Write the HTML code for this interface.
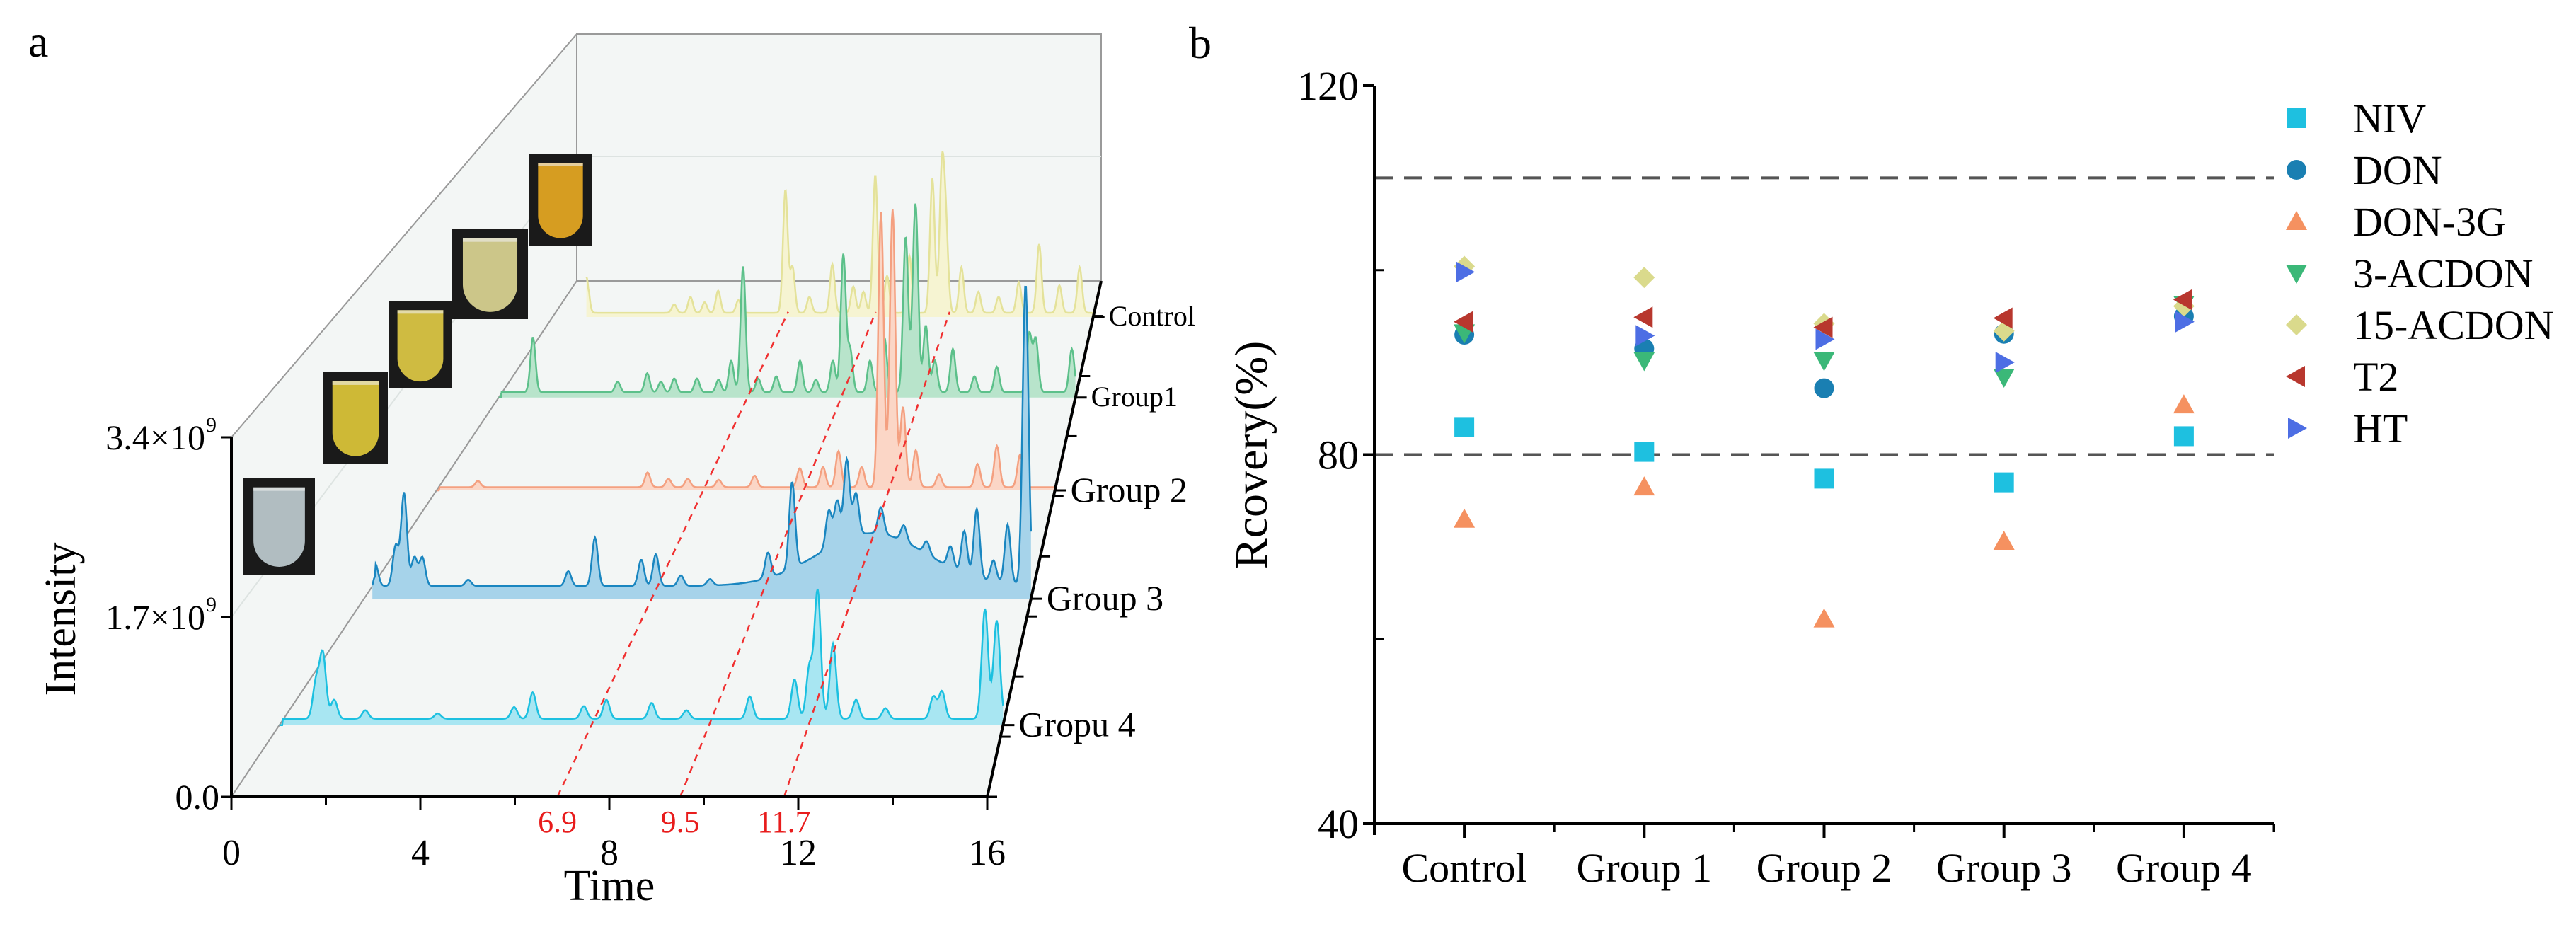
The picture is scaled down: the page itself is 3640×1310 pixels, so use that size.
<!DOCTYPE html>
<html><head><meta charset="utf-8"><style>
html,body{margin:0;padding:0;background:#fff;}
svg{display:block;}
text{font-family:"Liberation Serif","Times New Roman",serif;}
</style></head><body>
<svg id="fig" width="3640" height="1310" viewBox="0 0 3640 1310">
<text x="40" y="80" font-size="64">a</text>
<text x="1680" y="82" font-size="64">b</text>
<g id="pa">
  <polygon points="327,618 815,48 815,397 327,1126" fill="#f3f6f5" stroke="#9a9a9a" stroke-width="2"/>
  <polygon points="815,48 1556,48 1556,397 815,397" fill="#f3f6f5" stroke="#9a9a9a" stroke-width="2"/>
  <polygon points="327,1126 1395,1126 1556,397 815,397" fill="#f3f6f5" stroke="#9a9a9a" stroke-width="2"/>
  <line x1="815" y1="221" x2="1556" y2="221" stroke="#dde3e1" stroke-width="2"/>
  <line x1="327" y1="872" x2="815" y2="221" stroke="#dde3e1" stroke-width="2"/>
  <g id="tubes"></g>
  <g id="series"></g>
  <g id="redlines"></g>
  <g id="axesA"></g>
</g>
<g id="pb"></g>
</svg>
<script>
const NS="http://www.w3.org/2000/svg";
function mk(tag,attrs,parent,text){const e=document.createElementNS(NS,tag);for(const k in attrs)e.setAttribute(k,attrs[k]);if(text!==undefined)e.textContent=text;parent.appendChild(e);return e;}

// ---------- Panel a data ----------
const seriesNames=["Control","Group1","Group 2","Group 3","Gropu 4"];
const seriesDepth=[0.93,0.774,0.594,0.384,0.139];
const seriesStart=[1.0,0.0,0.0,0.2,0.0];
const seriesBase=[0.04,0.05,0.03,0.12,0.06];
const ctrlTimes=[1.0,3.6,4.08,4.5,4.9,5.5,6.89,7.1,7.6,8.28,8.9,9.2,9.55,9.9,10.56,11.24,11.52,11.64,12.1,12.6,13.2,13.8,14.4,15.0,15.6];
const ctrlHeights=[0.38,0.08,0.15,0.1,0.21,0.12,1.16,0.43,0.15,0.46,0.25,0.2,1.3,0.35,0.54,1.27,1.3,0.77,0.43,0.2,0.15,0.29,0.65,0.26,0.43];
const g1Times=[0.95,3.3,4.12,4.5,4.87,5.5,6.1,6.45,6.78,7.2,7.7,8.36,8.8,9.27,9.56,9.75,10.3,10.7,11.29,11.52,11.58,11.85,12.1,12.6,13.2,13.82,14.72,14.9,15.9];
const g1Heights=[0.52,0.1,0.18,0.1,0.13,0.13,0.12,0.3,1.19,0.13,0.15,0.3,0.12,0.3,1.3,0.4,0.3,0.52,1.47,0.63,1.3,0.63,0.3,0.41,0.15,0.24,0.55,0.5,0.41];
const g2Times=[1.07,5.46,6.0,6.5,7.3,8.23,9.4,10.0,10.4,11.0,11.5,11.8,12.07,12.4,13.0,14.0,14.5,15.1];
const g2Heights=[0.06,0.14,0.08,0.08,0.07,0.11,0.18,0.19,0.34,0.19,2.6,2.63,0.76,0.35,0.12,0.22,0.39,0.31];
const g3Times=[0.27,0.76,0.96,1.21,1.4,2.5,4.9,5.54,6.65,7.0,7.6,8.3,9.69,10.27,11.15,11.35,11.58,11.8,12.4,12.95,13.5,14.07,14.4,14.7,15.1,15.44,15.87,12.2];
const g3Heights=[0.21,0.38,0.88,0.27,0.27,0.06,0.14,0.46,0.25,0.3,0.1,0.06,0.24,0.82,0.35,0.4,0.75,0.4,0.25,0.15,0.12,0.2,0.4,0.65,0.2,0.56,2.85,0.5];
const g4Times=[0.81,0.96,1.21,1.9,3.5,5.19,5.6,6.73,7.23,8.23,9.0,10.4,11.39,11.72,11.9,12.24,12.75,13.4,14.46,14.65,15.6,15.86];
const g4Heights=[0.347,0.61,0.18,0.08,0.05,0.11,0.25,0.12,0.18,0.15,0.08,0.21,0.37,0.49,1.21,0.71,0.18,0.1,0.21,0.26,1.04,0.93];
const peakTimes=[ctrlTimes,g1Times,g2Times,g3Times,g4Times];
const peakHeights=[ctrlHeights,g1Heights,g2Heights,g3Heights,g4Heights];
const lineColors=["#e4e29a","#5cc08a","#f4a080","#1a86c0","#1cc0e0"];
const fillColors=["#f6f4d2","#b8e4cb","#fbd6c6","#a6d3ea","#a8e6f2"];
const timeTicks=[0,4,8,12,16];
const markTimes=[6.9,9.5,11.7];
const intTicks=[0,1.7,3.4];
const intTickLabels=["0.0","1.7×10","3.4×10"];

const A={x0:327,y0:1126,x16:1395,dx0:488,dx16:161,dy:729,hPerUnit:508/3.4};
function px(t,d){const a=A.x0+A.dx0*d,b=A.x16+A.dx16*d;return a+(b-a)*t/16;}
function py(v,d){return A.y0-A.dy*d-v*A.hPerUnit;}

const tubeBoxes=[[344,675,101,137,"#b9c6ca"],[457,526,91,129,"#d8c238"],[549,426,90,123,"#d9c443"],[639,324,107,127,"#d6d08f"],[748,217,88,130,"#e0a422"]];
const tg=document.getElementById('tubes');
tubeBoxes.forEach((b,i)=>{
  const g=mk('g',{},tg);
  
  
  mk('rect',{x:b[0],y:b[1],width:b[2],height:b[3],fill:"#1a1a1a"},g);
  const w=b[2]*0.72,x=b[0]+(b[2]-w)/2,top=b[1]+b[3]*0.1,h=b[3]*0.82;
  mk('path',{d:`M${x},${top} L${x+w},${top} L${x+w},${top+h-w/2} A${w/2},${w/2} 0 0 1 ${x},${top+h-w/2} Z`,fill:b[4],opacity:0.95},g);
  mk('rect',{x:x,y:top,width:w,height:5,fill:"#eee",opacity:0.6},g);
});

const sg=document.getElementById('series');
for(let s=0;s<5;s++){
  const d=seriesDepth[s];
  const pts=[];
  for(let t=seriesStart[s];t<=16.001;t+=0.02){
    let v=seriesBase[s];
    if(t<seriesStart[s]+0.08) v=0;
    const T=peakTimes[s],H=peakHeights[s];
    for(let k=0;k<T.length;k++){
      const sig=(s===3&&k===T.length-1)?1.3:0.07;
      v+=H[k]*Math.exp(-((t-T[k])**2)/(2*sig*sig));
    }
    pts.push([px(t,d),py(v,d)]);
  }
  const xs=px(seriesStart[s],d),xe=px(16,d),yb=py(0,d);
  const poly=mk('polygon',{points:`${xs},${yb} `+pts.map(p=>p[0].toFixed(1)+','+p[1].toFixed(1)).join(' ')+` ${xe},${yb}`,fill:fillColors[s],stroke:'none'},sg);
  
  
  const pl=mk('polyline',{points:pts.map(p=>p[0].toFixed(1)+','+p[1].toFixed(1)).join(' '),fill:'none',stroke:lineColors[s],'stroke-width':2.5},sg);
  
  
}

const rg=document.getElementById('redlines');
markTimes.forEach(t=>{
  const l=mk('line',{x1:px(t,0),y1:py(0,0),x2:px(t,0.94),y2:py(0,0.94),stroke:'#f03030','stroke-width':2.5,'stroke-dasharray':'10,8'},rg);
  
  
  const tx=mk('text',{x:px(t,0),y:1176,'font-size':44,fill:'#e81c1c','text-anchor':'middle'},rg,String(t));
  
  
});

const ag=document.getElementById('axesA');
mk('line',{x1:327,y1:1126,x2:1395,y2:1126,stroke:'#000','stroke-width':4},ag);
mk('line',{x1:327,y1:618,x2:327,y2:1126,stroke:'#000','stroke-width':4},ag);
mk('line',{x1:1395,y1:1126,x2:1556,y2:397,stroke:'#000','stroke-width':4},ag);
for(let t=0;t<=16;t+=2){mk('line',{x1:px(t,0),y1:1126,x2:px(t,0),y2:t%4===0?1144:1138,stroke:'#000','stroke-width':3},ag);}
timeTicks.forEach(t=>{const e=mk('text',{x:px(t,0),y:1222,'font-size':52,'text-anchor':'middle'},ag,String(t));});
intTicks.forEach((v,i)=>{
  const y=py(v,0);
  mk('line',{x1:312,y1:y,x2:327,y2:y,stroke:'#000','stroke-width':3},ag);
  const e=mk('text',{x:i===0?310:290,y:y+17,'font-size':50,'text-anchor':'end'},ag,intTickLabels[i]);
  
  if(i>0){const s=mk('text',{x:306,y:y-8,'font-size':30,'text-anchor':'end'},ag,'9');}
});
{const e=mk('text',{x:861,y:1272,'font-size':62,'text-anchor':'middle'},ag,'Time');}
{const e=mk('text',{x:0,y:0,'font-size':62,'text-anchor':'middle',transform:'translate(106,875) rotate(-90)'},ag,'Intensity');}
for(let k=0;k<=8;k++){const d=k*0.1165;const x=1395+161*d,y=1126-729*d;mk('line',{x1:x,y1:y,x2:x+14,y2:y,stroke:'#000','stroke-width':3},ag);}
seriesNames.forEach((n,s)=>{
  const d=seriesDepth[s];const x=1395+161*d,y=1126-729*d;
  mk('line',{x1:x,y1:y,x2:x+16,y2:y,stroke:'#000','stroke-width':3},ag);
  const e=mk('text',{x:x+22,y:y+(s<2?12:16),'font-size':s<2?40:50},ag,n);
  
});

// ---------- Panel b data ----------
const categories=["Control","Group 1","Group 2","Group 3","Group 4"];
const analytes=["NIV","DON","DON-3G","3-ACDON","15-ACDON","T2","HT"];
const nivVals=[83.0,80.3,77.4,77.0,82.0];
const donVals=[93.0,91.5,87.2,93.1,95.0];
const don3gVals=[73.0,76.5,62.2,70.6,85.4];
const acdon3Vals=[93.2,90.2,90.2,88.4,96.3];
const acdon15Vals=[100.4,99.2,94.2,93.4,96.1];
const t2Vals=[94.4,94.9,93.8,94.8,96.8];
const htVals=[99.8,92.9,92.5,90.0,94.4];
const yTicks=[40,80,120];
const limitLines=[80,110];
const allVals=[nivVals,donVals,don3gVals,acdon3Vals,acdon15Vals,t2Vals,htVals];
const colors=["#1ec0e0","#1a7fb2","#f59160","#3bb878","#dada8c","#b8372e","#4d6ee4"];
const shapes=["square","circle","tri-up","tri-down","diamond","tri-left","tri-right"];

const B={x0:1942,x1:3213,yBot:1164,yTop:121,vMin:40,vMax:120};
function bx(i){return B.x0+(i+0.5)*(B.x1-B.x0)/categories.length;}
function by(v){return B.yBot-(v-B.vMin)*(B.yBot-B.yTop)/(B.vMax-B.vMin);}
const pb=document.getElementById('pb');
function marker(shape,x,y,c,parent){
  const r=15;let e;
  if(shape==='square')e=mk('rect',{x:x-r+1,y:y-r+1,width:2*r-2,height:2*r-2,fill:c},parent);
  else if(shape==='circle')e=mk('circle',{cx:x,cy:y,r:r-1,fill:c},parent);
  else{let p;
    if(shape==='tri-up')p=[[x,y-r],[x+r,y+r*0.8],[x-r,y+r*0.8]];
    else if(shape==='tri-down')p=[[x,y+r],[x+r,y-r*0.8],[x-r,y-r*0.8]];
    else if(shape==='diamond')p=[[x,y-r],[x+r,y],[x,y+r],[x-r,y]];
    else if(shape==='tri-left')p=[[x-r,y],[x+r*0.8,y-r],[x+r*0.8,y+r]];
    else p=[[x+r,y],[x-r*0.8,y-r],[x-r*0.8,y+r]];
    e=mk('polygon',{points:p.map(q=>q.join(',')).join(' '),fill:c},parent);}
  return e;
}
limitLines.forEach(v=>{const l=mk('line',{x1:B.x0,y1:by(v),x2:B.x1,y2:by(v),stroke:'#555','stroke-width':4,'stroke-dasharray':'26,16'},pb);});
mk('line',{x1:B.x0,y1:B.yTop,x2:B.x0,y2:B.yBot+16,stroke:'#000','stroke-width':4},pb);
mk('line',{x1:B.x0-16,y1:B.yBot,x2:B.x1,y2:B.yBot,stroke:'#000','stroke-width':4},pb);
[60,100].forEach(v=>mk('line',{x1:B.x0,y1:by(v),x2:B.x0+14,y2:by(v),stroke:'#000','stroke-width':3},pb));
yTicks.forEach(v=>{mk('line',{x1:B.x0-16,y1:by(v),x2:B.x0,y2:by(v),stroke:'#000','stroke-width':4},pb);
  const e=mk('text',{x:B.x0-22,y:by(v)+20,'font-size':58,'text-anchor':'end'},pb,String(v));});
for(let i=0;i<=categories.length;i++){const x=B.x0+i*(B.x1-B.x0)/categories.length;mk('line',{x1:x,y1:B.yBot,x2:x,y2:B.yBot+12,stroke:'#000','stroke-width':3},pb);}
categories.forEach((c,i)=>{mk('line',{x1:bx(i),y1:B.yBot,x2:bx(i),y2:B.yBot+20,stroke:'#000','stroke-width':4},pb);
  const e=mk('text',{x:bx(i),y:1246,'font-size':58,'text-anchor':'middle'},pb,c);});
{const e=mk('text',{x:0,y:0,'font-size':66,'text-anchor':'middle',transform:'translate(1790,643) rotate(-90)'},pb,'Rcovery(%)');}
allVals.forEach((arr,s)=>{arr.forEach((v,i)=>{const m=marker(shapes[s],bx(i),by(v),colors[s],pb);});});
analytes.forEach((a,s)=>{const y=167+s*73;
  const m=marker(shapes[s],3245,y,colors[s],pb);
  const t=mk('text',{x:3325,y:y+20,'font-size':58},pb,a);});
</script>
</body></html>
